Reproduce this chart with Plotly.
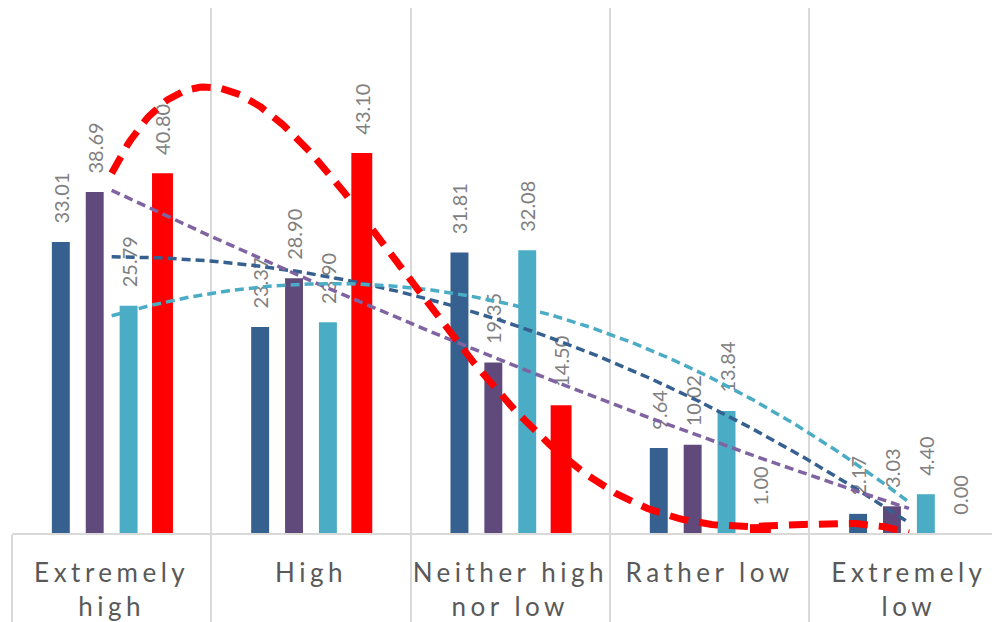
import numpy as np
import plotly.graph_objects as go

# ---- data ----
categories = ["Extremely<br>high", "High", "Neither high<br>nor low", "Rather low", "Extremely<br>low"]
series_names = ["Series 1", "Series 2", "Series 3", "Series 4"]
s1 = [33.01, 23.37, 31.81, 9.64, 2.17]
s2 = [38.69, 28.90, 19.35, 10.02, 3.03]
s3 = [25.79, 23.90, 32.08, 13.84, 4.40]
s4 = [40.80, 43.10, 14.50, 1.00, 0.00]
trend_degree = [2, 2, 2, 4]

# ---- style ----
bar_colors = ["#36608f", "#604a7b", "#4bacc6", "#ff0000"]
trend_colors = ["#36608f", "#8064a2", "#4bacc6", "#ff0000"]
bar_centers = [-0.255, -0.085, 0.085, 0.255]
bar_widths = [0.09, 0.09, 0.09, 0.105]

xpos = np.arange(1, len(categories) + 1)
all_series = [s1, s2, s3, s4]

fig = go.Figure()
for i, vals in enumerate(all_series):
    w = bar_widths[i]
    fig.add_trace(go.Bar(
        x=xpos, y=vals, name=series_names[i],
        width=w, offset=bar_centers[i] - w / 2,
        marker=dict(color=bar_colors[i], line=dict(width=0)),
        text=["\u00a0\u00a0\u00a0" + f"{v:.2f}" for v in vals],
        textposition="outside", textangle=-90, constraintext="none",
        cliponaxis=False,
        textfont=dict(family="Lato", size=20, color="#808080"),
        hoverinfo="skip",
    ))

xs = np.linspace(1, len(categories), 300)
for i, vals in enumerate(all_series):
    coeffs = np.polyfit(xpos, vals, trend_degree[i])
    ys = np.polyval(coeffs, xs)
    if i < 3:
        line = dict(color=trend_colors[i], width=3.5, dash="9px,5px")
    else:
        line = dict(color=trend_colors[i], width=7, dash="19px,11px")
    fig.add_trace(go.Scatter(x=xs, y=ys, mode="lines", line=line,
                             hoverinfo="skip", showlegend=False, cliponaxis=False))

sp = '<span style="letter-spacing:4.5px">'
ticktext = [sp + c.replace("<br>", "</span><br>" + sp) + "</span>" for c in categories]

fig.update_layout(
    width=992, height=614,
    margin=dict(l=4, r=0, t=0, b=89),
    plot_bgcolor="white", paper_bgcolor="white",
    showlegend=False, barmode="overlay",
    xaxis=dict(
        range=[0.5, 5.457], tickvals=xpos, ticktext=ticktext,
        showgrid=False, zeroline=False, ticks="",
        ticklabelstandoff=16,
        tickfont=dict(family="Lato", size=26, color="#595959"),
        showline=True, linecolor="#d9d9d9", linewidth=2,
        minor=dict(tickmode="array", tickvals=[0.5, 1.5, 2.5, 3.5, 4.5, 5.5],
                   showgrid=True, gridcolor="#d9d9d9", gridwidth=2,
                   ticks="outside", ticklen=89, tickcolor="#d9d9d9", tickwidth=2),
    ),
    yaxis=dict(range=[0, 59.55], visible=False, showgrid=False, zeroline=False),
)

fig.write_html("out.html")
